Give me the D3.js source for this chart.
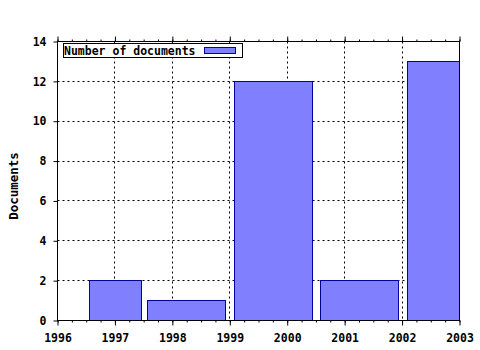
<!DOCTYPE html>
<html>
<head>
<meta charset="utf-8">
<script src="https://cdn.jsdelivr.net/npm/d3@7"></script>
<style>
  body { margin: 0; background: #fff; }
  text { font-family: "DejaVu Sans Mono", monospace; font-weight: bold; font-size: 11.5px; fill: #000; }
</style>
</head>
<body>
<svg id="chart" width="480" height="350"></svg>
<script>
// Documents per year (years without documents are simply missing)
var years = [1997, 1998, 2000, 2001, 2003];
var counts = [2, 1, 12, 2, 13];
var xTicks = [1996, 1997, 1998, 1999, 2000, 2001, 2002, 2003];
var yTicks = [0, 2, 4, 6, 8, 10, 12, 14];
var seriesName = 'Number of documents';

var width = 480,
    height = 350,
    plotLeft = 57.5,
    plotRight = 459.5,
    plotTop = 41.5,
    plotBottom = 320.5,
    boxWidth = 0.9, // relative box width, boxes touch the midpoints between years
    fill = '#8080ff',
    edge = '#0000a0';

var svg = d3.select('#chart');
svg.append('rect').attr('width', width).attr('height', height).attr('fill', '#fff');

var x = d3.scaleLinear().domain([1996, 2003]).range([plotLeft, plotRight]);
var y = d3.scaleLinear().domain([0, 14]).range([plotBottom, plotTop]);

// box extents: from midpoint to midpoint, shrunk around their centre
var boxes = years.map(function(yr, i) {
    var lo = i > 0 ? (years[i - 1] + yr) / 2 : yr - (years[i + 1] - yr) / 2,
        hi = i < years.length - 1 ? (yr + years[i + 1]) / 2 : yr + (yr - years[i - 1]) / 2,
        mid = (lo + hi) / 2,
        w = (hi - lo) * boxWidth;
    return { x0: mid - w / 2, x1: mid + w / 2, value: counts[i] };
});

var crisp = function(v) { return Math.round(v - 0.5) + 0.5; };

svg.append('clipPath').attr('id', 'plot')
    .append('rect')
    .attr('x', plotLeft).attr('y', plotTop - 1)
    .attr('width', plotRight - plotLeft).attr('height', plotBottom - plotTop + 1);

// grid
var grid = svg.append('g').attr('stroke', '#000').attr('stroke-width', 1).attr('stroke-dasharray', '2,3');
grid.selectAll('.vgrid')
    .data(xTicks.slice(1, -1))
    .enter().append('line')
    .attr('x1', function(d) { return crisp(x(d)); })
    .attr('x2', function(d) { return crisp(x(d)); })
    .attr('y1', plotTop).attr('y2', plotBottom);
grid.selectAll('.hgrid')
    .data(yTicks.slice(1, -1))
    .enter().append('line')
    .attr('y1', function(d) { return crisp(y(d)); })
    .attr('y2', function(d) { return crisp(y(d)); })
    .attr('x1', plotLeft).attr('x2', plotRight);

// bars
svg.append('g').attr('clip-path', 'url(#plot)')
    .selectAll('rect')
    .data(boxes)
    .enter().append('rect')
    .attr('x', function(d) { return crisp(x(d.x0)); })
    .attr('y', function(d) { return crisp(y(d.value)); })
    .attr('width', function(d) { return Math.round(x(d.x1) - x(d.x0)); })
    .attr('height', function(d) { return Math.round(y(0) - y(d.value)); })
    .attr('fill', fill)
    .attr('stroke', edge)
    .attr('stroke-width', 1);

// axes
var minor = d3.range(1996, 2003.01, 0.25);

var xAxis = svg.append('g').attr('transform', 'translate(0,' + plotBottom + ')')
    .call(d3.axisBottom(x).tickValues(xTicks).tickSize(5).tickPadding(6).tickFormat(d3.format('d')));
svg.append('g').attr('transform', 'translate(0,' + plotBottom + ')')
    .call(d3.axisBottom(x).tickValues(minor).tickSize(2).tickFormat(''));
svg.append('g').attr('transform', 'translate(0,' + plotTop + ')')
    .call(d3.axisTop(x).tickValues(xTicks).tickSize(5).tickFormat(''));
svg.append('g').attr('transform', 'translate(0,' + plotTop + ')')
    .call(d3.axisTop(x).tickValues(minor).tickSize(2).tickFormat(''));
var yAxis = svg.append('g').attr('transform', 'translate(' + plotLeft + ',0)')
    .call(d3.axisLeft(y).tickValues(yTicks).tickSize(4).tickPadding(7));

svg.selectAll('.domain').remove();
svg.selectAll('.tick line').attr('stroke', '#000');
svg.selectAll('.tick text').attr('font-size', null).attr('font-family', null);
xAxis.selectAll('text').attr('dy', '0.95em');

// border
svg.append('rect')
    .attr('x', plotLeft).attr('y', plotTop)
    .attr('width', plotRight - plotLeft).attr('height', plotBottom - plotTop)
    .attr('fill', 'none').attr('stroke', '#000').attr('stroke-width', 1);

// y label
svg.append('text')
    .attr('transform', 'translate(18,186) rotate(-90)')
    .attr('text-anchor', 'middle')
    .style('font-size', '12.5px')
    .text('Documents');

// legend
var legend = svg.append('g');
legend.append('rect')
    .attr('x', 63.5).attr('y', 43.5).attr('width', 179).attr('height', 14)
    .attr('fill', '#fff').attr('stroke', '#000');
legend.append('text').attr('x', 64).attr('y', 55).text(seriesName);
legend.append('rect')
    .attr('x', 204.5).attr('y', 47.5).attr('width', 31).attr('height', 6)
    .attr('fill', fill).attr('stroke', edge);
</script>
</body>
</html>
